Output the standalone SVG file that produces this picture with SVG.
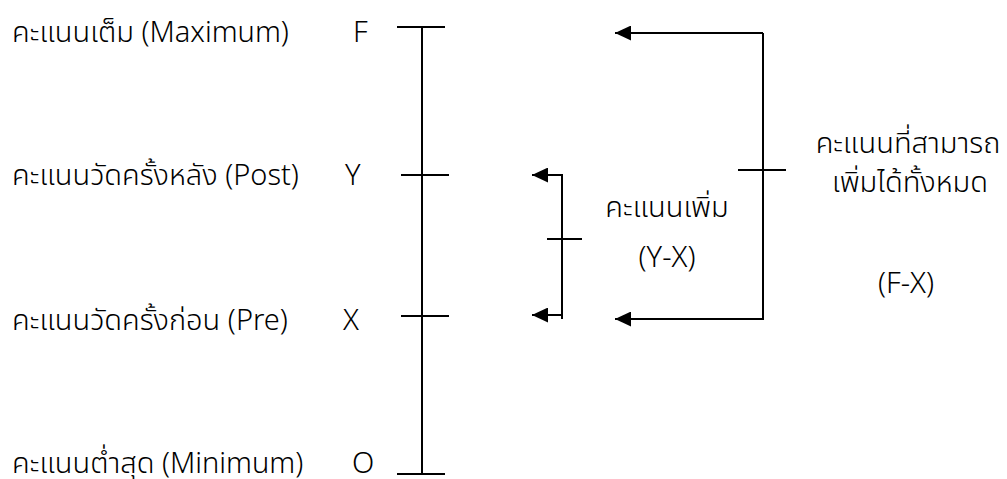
<svg xmlns="http://www.w3.org/2000/svg" width="1007" height="479" viewBox="0 0 1007 479">
<defs>
<marker id="ah" markerWidth="16" markerHeight="15" refX="16" refY="7.5" orient="auto" markerUnits="userSpaceOnUse">
<path d="M0,0 L16,7.5 L0,15 Z" fill="#000"/>
</marker>
<style>
text{font-family:"Noto Sans","Noto Sans Thai","Noto Sans CJK SC",sans-serif;font-size:29px;font-weight:300;fill:#000}
.ln{stroke:#000;stroke-width:2;fill:none}
.c{text-anchor:middle}
</style>
</defs>
<rect width="1007" height="479" fill="#fff"/>
<g id="label-F">
<text x="12" y="42">คะแนนเต็ม (Maximum)</text>
<text x="353" y="42">F</text>
</g>
<g id="label-Y">
<text x="12" y="185">คะแนนวัดครั้งหลัง (Post)</text>
<text x="345" y="185">Y</text>
</g>
<g id="label-X">
<text x="12" y="330">คะแนนวัดครั้งก่อน (Pre)</text>
<text x="343" y="330">X</text>
</g>
<g id="label-O">
<text x="12" y="473">คะแนนต่ำสุด (Minimum)</text>
<text x="352" y="473">O</text>
</g>
<g id="axis">
<line class="ln" x1="422" y1="27" x2="422" y2="474"/>
<line class="ln" x1="397" y1="27" x2="445" y2="27"/>
<line class="ln" x1="401" y1="175" x2="449" y2="175"/>
<line class="ln" x1="401" y1="316" x2="449" y2="316"/>
<line class="ln" x1="397" y1="474" x2="445" y2="474"/>
</g>
<g id="gain-label">
<text class="c" x="667" y="217">คะแนนเพิ่ม</text>
<text class="c" x="667" y="267">(Y-X)</text>
</g>
<g id="total-label">
<text class="c" x="908" y="153">คะแนนที่สามารถ</text>
<text class="c" x="910" y="192">เพิ่มได้ทั้งหมด</text>
<text class="c" x="906" y="293">(F-X)</text>
</g>
<g id="connectors">
<polyline class="ln" points="562,319 562,175 532,175" marker-end="url(#ah)"/>
<line class="ln" x1="562" y1="315" x2="532" y2="315" marker-end="url(#ah)"/>
<line class="ln" x1="547" y1="239" x2="582" y2="239"/>
<polyline class="ln" points="763,33 763,319 615,319" marker-end="url(#ah)"/>
<line class="ln" x1="763" y1="33" x2="615" y2="33" marker-end="url(#ah)"/>
<line class="ln" x1="738" y1="170" x2="786" y2="170"/>
</g>
</svg>
